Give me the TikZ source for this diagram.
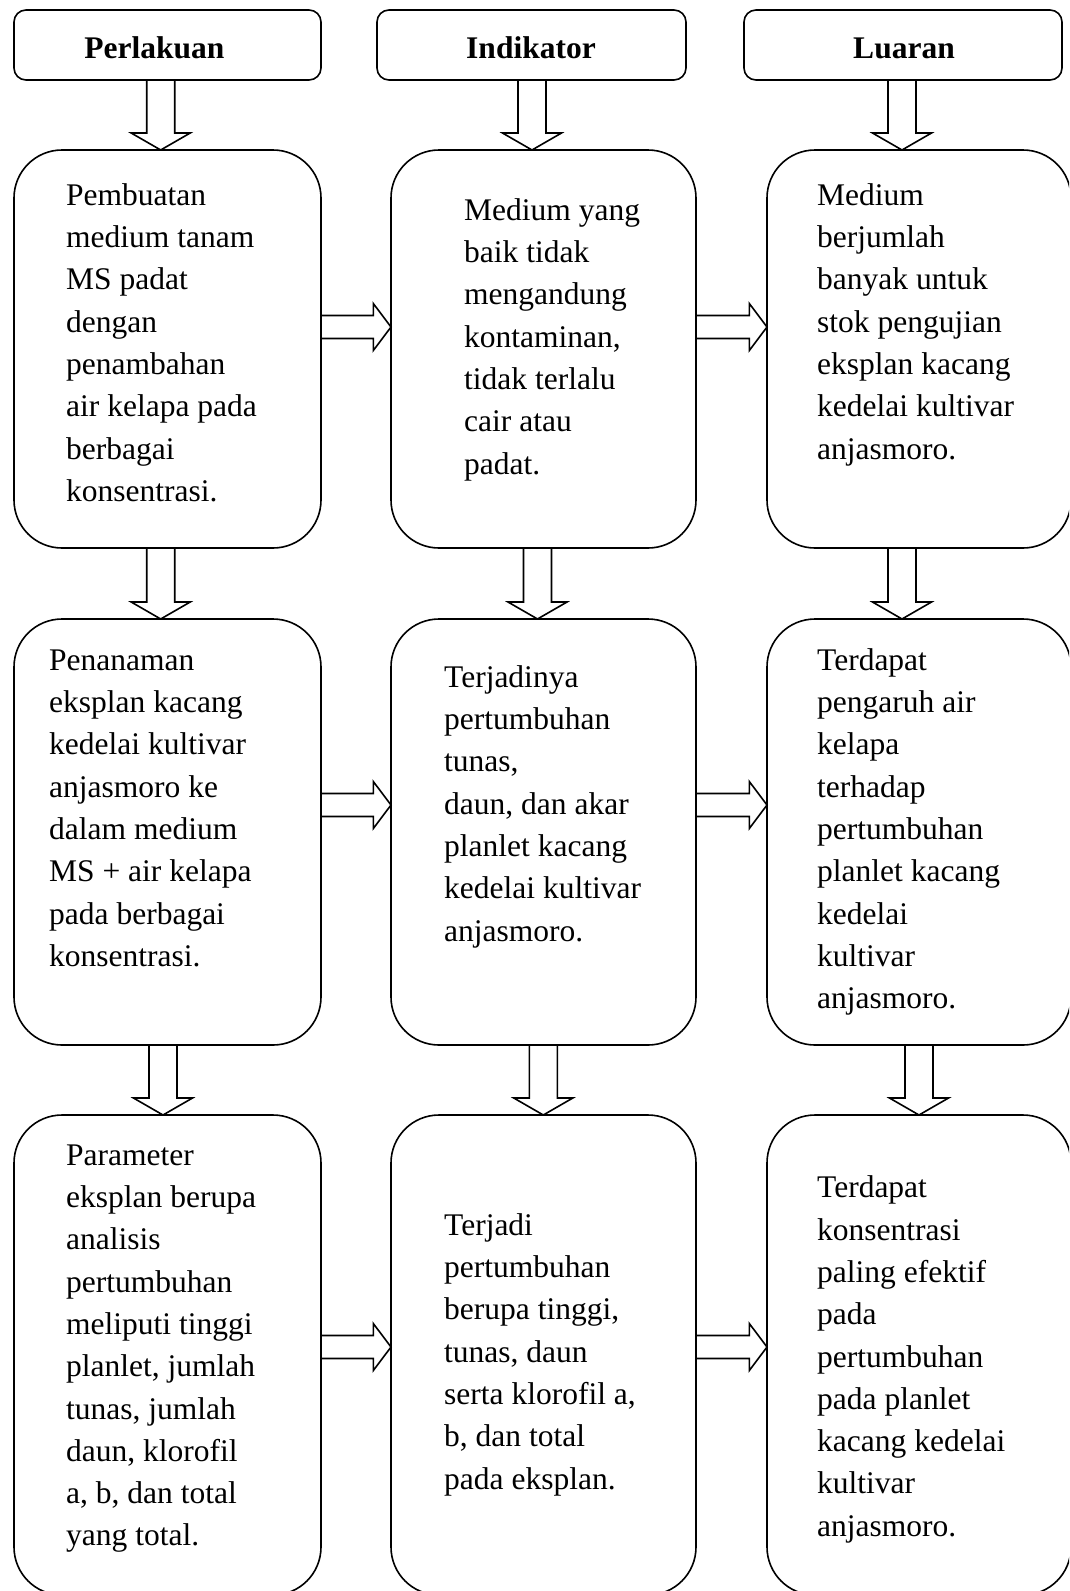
\documentclass[tikz,border=0pt]{standalone}
\usepackage{fontspec}
\setmainfont{Liberation Serif}
\usetikzlibrary{calc}
\tikzset{
 bigbox/.style={draw, line width=1.6pt, rounded corners=48pt, inner sep=0pt, outer sep=0pt},
 headbox/.style={draw, line width=1.6pt, rounded corners=12pt, inner sep=0pt, outer sep=0pt},
 blockarrow/.style={draw, line width=1.6pt, line join=miter},
 txt/.style={anchor=north west, inner sep=0pt, align=left, font=\fontsize{31.5}{42.3}\selectfont},
 headtxt/.style={anchor=base, inner sep=0pt, font=\fontsize{31.5}{42.3}\selectfont\bfseries},
}
\newcommand\mydarrow[3]{\draw[blockarrow] let \p1=(#1.south), \p2=(#2.north) in
 (#3pt-14pt,\y1) -- (#3pt-14pt,\y2+17pt) -- (#3pt-29.5pt,\y2+17pt) -- (#3pt,\y2) -- (#3pt+29.5pt,\y2+17pt) -- (#3pt+14pt,\y2+17pt) -- (#3pt+14pt,\y1);}
\newcommand\myrarrow[3]{\draw[blockarrow] let \p1=(#1.east), \p2=(#2.west) in
 (\x1,-#3pt+11.5pt) -- (\x2-17.7pt,-#3pt+11.5pt) -- (\x2-17.7pt,-#3pt+23.5pt) -- (\x2,-#3pt) -- (\x2-17.7pt,-#3pt-23.5pt) -- (\x2-17.7pt,-#3pt-11.5pt) -- (\x1,-#3pt-11.5pt);}
\begin{document}
\begin{tikzpicture}[x=1pt,y=-1pt]
\useasboundingbox (0,0) rectangle (1069,1591);
\clip (0,0) rectangle (1069,1591);
% headers
\node[headbox, minimum width=307pt, minimum height=70pt] (h1) at (167.5,45) {};
\node[headbox, minimum width=309pt, minimum height=70pt] (h2) at (531.5,45) {};
\node[headbox, minimum width=318pt, minimum height=70pt] (h3) at (903,45) {};
\node[headtxt] (ht1) at (154.5,58) {Perlakuan};
\node[headtxt] (ht2) at (531,58) {Indikator};
\node[headtxt] (ht3) at (904,58) {Luaran};
% big boxes
\node[bigbox, minimum width=307pt, minimum height=398pt] (b11) at (167.5,349) {};
\node[bigbox, minimum width=305pt, minimum height=398pt] (b21) at (543.5,349) {};
\node[bigbox, minimum width=304pt, minimum height=398pt] (b31) at (919,349) {};
\node[bigbox, minimum width=307pt, minimum height=426pt] (b12) at (167.5,832) {};
\node[bigbox, minimum width=305pt, minimum height=426pt] (b22) at (543.5,832) {};
\node[bigbox, minimum width=304pt, minimum height=426pt] (b32) at (919,832) {};
\node[bigbox, minimum width=307pt, minimum height=480pt] (b13) at (167.5,1355) {};
\node[bigbox, minimum width=305pt, minimum height=480pt] (b23) at (543.5,1355) {};
\node[bigbox, minimum width=304pt, minimum height=480pt] (b33) at (919,1355) {};
% texts
\node[txt] (t11) at (66,175.4) {\strut Pembuatan\\medium tanam\\MS padat\\dengan\\penambahan\\air kelapa pada\\berbagai\\konsentrasi.};
\node[txt] (t21) at (464,190.4) {\strut Medium yang\\baik tidak\\mengandung\\kontaminan,\\tidak terlalu\\cair atau\\padat.};
\node[txt] (t31) at (817,175.4) {\strut Medium\\berjumlah\\banyak untuk\\stok pengujian\\eksplan kacang\\kedelai kultivar\\anjasmoro.};
\node[txt] (t12) at (49,640.4) {\strut Penanaman\\eksplan kacang\\kedelai kultivar\\anjasmoro ke\\dalam medium\\MS + air kelapa\\pada berbagai\\konsentrasi.};
\node[txt] (t22) at (444,657.4) {\strut Terjadinya\\pertumbuhan\\tunas,\\daun, dan akar\\planlet kacang\\kedelai kultivar\\anjasmoro.};
\node[txt] (t32) at (817,640.4) {\strut Terdapat\\pengaruh air\\kelapa\\terhadap\\pertumbuhan\\planlet kacang\\kedelai\\kultivar\\anjasmoro.};
\node[txt] (t13) at (66,1135.4) {\strut Parameter\\eksplan berupa\\analisis\\pertumbuhan\\meliputi tinggi\\planlet, jumlah\\tunas, jumlah\\daun, klorofil\\a, b, dan total\\yang total.};
\node[txt] (t23) at (444,1205.4) {\strut Terjadi\\pertumbuhan\\berupa tinggi,\\tunas, daun\\serta klorofil a,\\b, dan total\\pada eksplan.};
\node[txt] (t33) at (817,1168) {\strut Terdapat\\konsentrasi\\paling efektif\\pada\\pertumbuhan\\pada planlet\\kacang kedelai\\kultivar\\anjasmoro.};
% down arrows
\mydarrow{h1}{b11}{160.7}
\mydarrow{h2}{b21}{532}
\mydarrow{h3}{b31}{902}
\mydarrow{b11}{b12}{160.7}
\mydarrow{b21}{b22}{537.5}
\mydarrow{b31}{b32}{902}
\mydarrow{b12}{b13}{163}
\mydarrow{b22}{b23}{543.3}
\mydarrow{b32}{b33}{919}
% right arrows
\myrarrow{b11}{b21}{327}
\myrarrow{b21}{b31}{327}
\myrarrow{b12}{b22}{805}
\myrarrow{b22}{b32}{805}
\myrarrow{b13}{b23}{1347}
\myrarrow{b23}{b33}{1347}
\end{tikzpicture}
\end{document}
